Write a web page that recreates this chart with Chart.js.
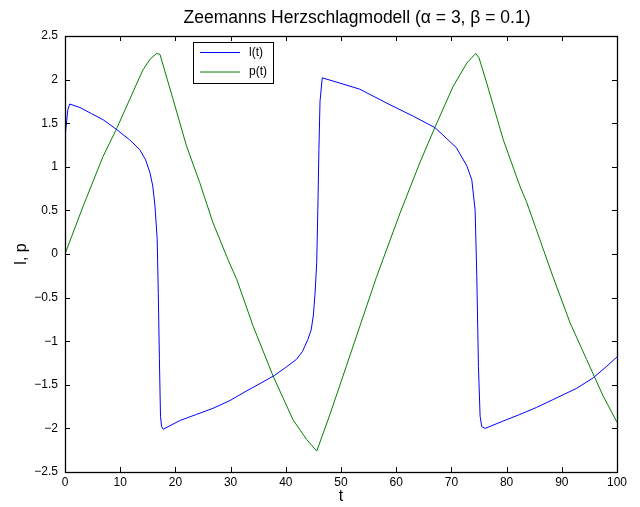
<!DOCTYPE html>
<html><head><meta charset="utf-8">
<script src="https://cdn.jsdelivr.net/npm/chart.js@4/dist/chart.umd.min.js"></script>
<style>html,body{margin:0;padding:0;background:#fff;}#wrap{width:640px;height:507px;}</style>
</head><body><div id="wrap"><canvas id="c" width="640" height="507"></canvas></div>
<script>
const titleText = 'Zeemanns Herzschlagmodell (\u03B1 = 3, \u03B2 = 0.1)';
const xAxisTitle = 't';
const yAxisTitle = 'l, p';
const seriesLabels = ['l(t)', 'p(t)'];
const seriesColors = ['#0000ff', '#008000'];
const xTicks = [0, 10, 20, 30, 40, 50, 60, 70, 80, 90, 100];
const yTicks = [-2.5, -2, -1.5, -1, -0.5, 0, 0.5, 1, 1.5, 2, 2.5];

const lTime = [0, 0.1, 0.5, 0.85, 2.7, 4.8, 6.9, 9.3, 11.7, 13.5, 14.6, 15.4, 15.9, 16.3, 16.7, 16.9, 17.1, 17.3, 17.5, 17.8,
  20.8, 23.8, 26.8, 29.9, 32.9, 35.5, 38.0, 40.0, 41.9, 43.0, 44.0, 44.6, 45.0, 45.3, 45.6, 45.8, 46.0, 46.2, 46.6,
  49.8, 53.4, 58.3, 63.1, 67.0, 70.9, 72.8, 73.7, 74.3, 74.6, 74.9, 75.2, 75.5, 76.1, 79.2, 82.4, 85.4, 88.4, 92.7, 95.7, 98.1, 100];
const lValues = [1.0, 1.4, 1.65, 1.72, 1.68, 1.61, 1.54, 1.43, 1.31, 1.20, 1.08, 0.93, 0.78, 0.55, 0.17, -0.45, -1.2, -1.86, -1.98, -2.01,
  -1.91, -1.84, -1.77, -1.68, -1.57, -1.48, -1.39, -1.30, -1.21, -1.12, -0.98, -0.87, -0.70, -0.45, -0.10, 0.5, 1.2, 1.75, 2.02,
  1.96, 1.89, 1.73, 1.58, 1.45, 1.22, 1.01, 0.85, 0.50, -0.25, -1.29, -1.86, -1.98, -2.0, -1.92, -1.84, -1.76, -1.67, -1.54, -1.42, -1.29, -1.18];

const pTime = [0, 3.3, 6.9, 9.3, 11.7, 14.1, 15.5, 16.6, 17.2, 19.6, 22.0, 24.4, 26.8, 29.5, 31.1, 34.1, 37.7, 41.3, 43.8, 45.6,
  48.0, 51.0, 56.4, 60.7, 64.3, 67.0, 70.3, 72.8, 74.4, 75.0, 76.4, 79.4, 82.4, 83.6, 86.0, 88.4, 91.5, 94.5, 97.5, 100];
const pValues = [0, 0.55, 1.12, 1.43, 1.77, 2.11, 2.24, 2.30, 2.29, 1.77, 1.24, 0.82, 0.36, -0.06, -0.29, -0.83, -1.40, -1.90, -2.13, -2.26,
  -1.84, -1.28, -0.27, 0.47, 1.05, 1.45, 1.92, 2.19, 2.30, 2.25, 1.96, 1.31, 0.78, 0.60, 0.17, -0.26, -0.79, -1.21, -1.63, -1.93];

const FONT = 'Liberation Sans, Arial, Helvetica, sans-serif';
const fmt = v => (Math.round(v * 10) / 10).toString().replace('-', '\u2212');

const framePlugin = {
  id: 'frame',
  afterDraw(chart) {
    const ctx = chart.ctx, a = chart.chartArea;
    const xs = chart.scales.x, ys = chart.scales.y;
    ctx.save();
    ctx.strokeStyle = '#000';
    ctx.lineWidth = 1;
    ctx.beginPath();
    const tl = 5;
    xTicks.forEach(v => {
      const px = Math.round(xs.getPixelForValue(v)) + 0.5;
      ctx.moveTo(px, a.bottom); ctx.lineTo(px, a.bottom - tl);
      ctx.moveTo(px, a.top); ctx.lineTo(px, a.top + tl);
    });
    yTicks.forEach(v => {
      const py = Math.round(ys.getPixelForValue(v)) + 0.5;
      ctx.moveTo(a.left, py); ctx.lineTo(a.left + tl, py);
      ctx.moveTo(a.right, py); ctx.lineTo(a.right - tl, py);
    });
    ctx.stroke();
    ctx.lineWidth = 1.3;
    ctx.strokeRect(Math.round(a.left) + 0.5, Math.round(a.top) + 0.5, Math.round(a.right - a.left), Math.round(a.bottom - a.top));
    // legend
    const lx = a.left + 128, ly = a.top + 6, lw = 80, lh = 41;
    ctx.fillStyle = '#fff';
    ctx.fillRect(lx, ly, lw, lh);
    ctx.lineWidth = 1;
    ctx.strokeStyle = '#000';
    ctx.strokeRect(lx + 0.5, ly + 0.5, lw, lh);
    chart.data.datasets.forEach((ds, i) => {
      const yy = ly + 10.5 + i * 19.5;
      ctx.strokeStyle = ds.borderColor;
      ctx.beginPath();
      ctx.moveTo(lx + 7, yy); ctx.lineTo(lx + 47, yy);
      ctx.stroke();
      ctx.fillStyle = '#000';
      ctx.font = '12px ' + FONT;
      ctx.textBaseline = 'middle';
      ctx.textAlign = 'left';
      ctx.fillText(ds.label, lx + 56, yy);
    });
    // title
    ctx.fillStyle = '#000';
    ctx.font = '17.5px ' + FONT;
    ctx.textAlign = 'center';
    ctx.textBaseline = 'middle';
    ctx.fillText(titleText, 357, 18);
    ctx.restore();
  }
};

new Chart(document.getElementById('c'), {
  type: 'line',
  data: {
    datasets: [
      { label: seriesLabels[0], data: lTime.map((t, i) => ({ x: t, y: lValues[i] })), borderColor: seriesColors[0], borderWidth: 1, pointRadius: 0, tension: 0, fill: false },
      { label: seriesLabels[1], data: pTime.map((t, i) => ({ x: t, y: pValues[i] })), borderColor: seriesColors[1], borderWidth: 1, pointRadius: 0, tension: 0, fill: false }
    ]
  },
  options: {
    responsive: false,
    devicePixelRatio: 1,
    animation: false,
    layout: { padding: { top: 36, right: 23, left: 0, bottom: 0 } },
    plugins: { legend: { display: false }, title: { display: false }, tooltip: { enabled: false } },
    scales: {
      x: {
        type: 'linear', min: 0, max: 100,
        afterBuildTicks: s => { s.ticks = xTicks.map(v => ({ value: v })); },
        afterFit: s => { s.height = 35; },
        grid: { display: false, drawTicks: false, tickLength: 0 }, border: { display: false },
        ticks: { color: '#000', font: { size: 12, family: FONT }, padding: 3, maxRotation: 0, autoSkip: false, callback: v => fmt(v) },
        title: { display: true, text: xAxisTitle, color: '#000', font: { size: 16, family: FONT }, padding: { top: 0, bottom: 1 } }
      },
      y: {
        type: 'linear', min: -2.5, max: 2.5,
        afterBuildTicks: s => { s.ticks = yTicks.map(v => ({ value: v })); },
        afterFit: s => { s.width = 65; },
        grid: { display: false, drawTicks: false, tickLength: 0 }, border: { display: false },
        ticks: { color: '#000', font: { size: 12, family: FONT }, padding: 7, autoSkip: false, callback: v => fmt(v) },
        title: { display: true, text: yAxisTitle, color: '#000', font: { size: 16, family: FONT }, padding: { top: 12, bottom: 0 } }
      }
    }
  },
  plugins: [framePlugin]
});
</script>
</body></html>
